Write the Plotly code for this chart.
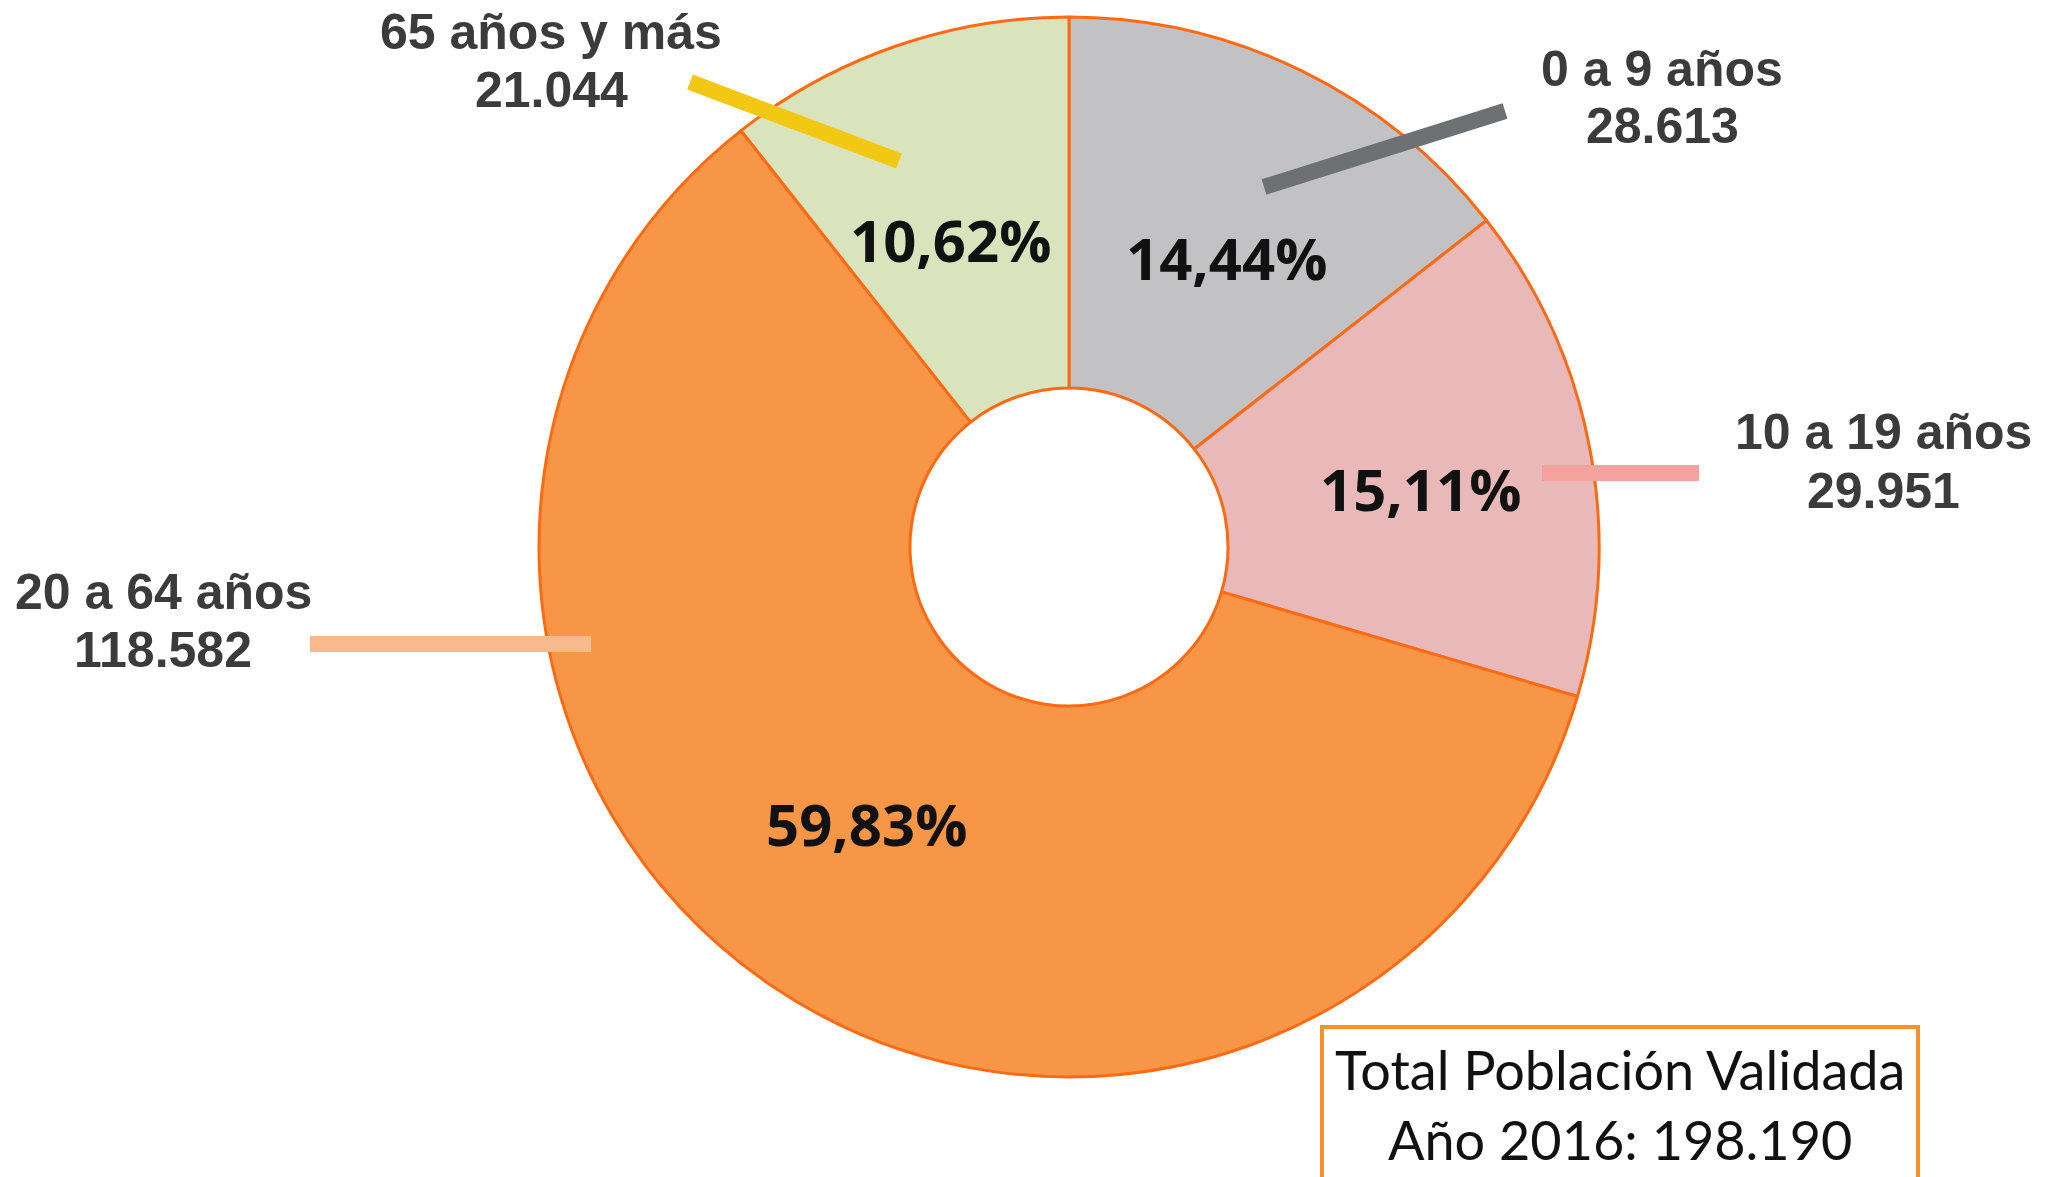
import plotly.graph_objects as go

# Población por grupo de edad, año 2016
grupos = ['0 a 9 años', '10 a 19 años', '20 a 64 años', '65 años y más']
poblacion = [28613, 29951, 118582, 21044]
colores = ['#C2C2C4', '#E8B9B8', '#F79646', '#D9E4BC']
colores_linea = ['#6D7173', '#F4A29E', '#F8B98C', '#F2C812']
total = sum(poblacion)

W, H = 2049, 1177
OFF = 8  # margen del body de la página


def px(x):
    return (x - OFF) / W


def py(y):
    return 1 - (y - OFF) / H


fig = go.Figure()
fig.add_trace(go.Pie(
    labels=grupos,
    values=poblacion,
    sort=False,
    direction='clockwise',
    hole=0.3,
    marker=dict(colors=colores, line=dict(color='#FF6A13', width=3)),
    textinfo='none',
    domain=dict(x=[px(539), px(1599)], y=[py(1077), py(17)]),
    showlegend=False,
    hoverinfo='label+value+percent',
))

# porcentajes dentro de cada sector
pos_pct = [(1226, 257), (1420, 489), (866, 823), (950, 240)]
for v, (x, y) in zip(poblacion, pos_pct):
    pct = f'{v / total * 100:.2f}'.replace('.', ',') + '%'
    fig.add_annotation(x=px(x), y=py(y), xref='paper', yref='paper',
                       text=f'<b>{pct}</b>', showarrow=False,
                       xanchor='center', yanchor='middle',
                       font=dict(family='Open Sans', size=58, color='#111111'))

# etiquetas externas: (x centro, y nombre, y valor)
pos_etiquetas = [(1662, 69, 126), (1883, 432, 491), (163, 592, 650), (551, 32, 90)]
# líneas guía: (x0, y0, x1, y1)
pos_lineas = [(1264, 187, 1505, 111), (1542, 473, 1699, 473),
              (310, 644, 591, 644), (690, 82, 899, 161)]

for g, v, (x, y1, y2), (a, b, c, d), col in zip(grupos, poblacion, pos_etiquetas,
                                                  pos_lineas, colores_linea):
    valor = f'{v:,}'.replace(',', '.')
    for txt, yy in ((g, y1), (valor, y2)):
        fig.add_annotation(x=px(x), y=py(yy), xref='paper', yref='paper',
                           text=f'<b>{txt}</b>', showarrow=False,
                           xanchor='center', yanchor='middle',
                           font=dict(family='Liberation Sans', size=50, color='#3B3B3B'))
    fig.add_shape(type='line', xref='paper', yref='paper',
                  x0=px(a), y0=py(b), x1=px(c), y1=py(d),
                  line=dict(color=col, width=16))

# recuadro del total
fig.add_shape(type='rect', xref='paper', yref='paper',
              x0=px(1322), y0=py(1210), x1=px(1918), y1=py(1027),
              line=dict(color='#F7922E', width=4), fillcolor='rgba(0,0,0,0)')
total_txt = f'{total:,}'.replace(',', '.')
for txt, yy in (('Total Población Validada', 1069), (f'Año 2016: {total_txt}', 1139)):
    fig.add_annotation(x=px(1620), y=py(yy), xref='paper', yref='paper',
                       text=txt, showarrow=False, xanchor='center', yanchor='middle',
                       font=dict(family='Lato', size=54, color='#111111'))

fig.update_layout(
    width=W, height=H,
    margin=dict(l=0, r=0, t=0, b=0),
    paper_bgcolor='white',
    plot_bgcolor='white',
)

fig.write_html('out.html')
